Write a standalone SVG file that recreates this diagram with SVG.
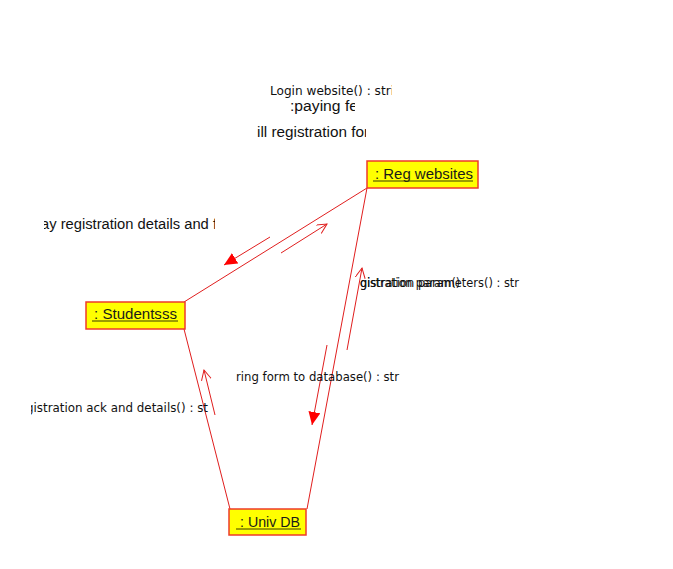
<svg xmlns="http://www.w3.org/2000/svg" width="673" height="569" viewBox="0 0 673 569">
<style>
.box{fill:#ffff00;stroke:#ee3b2a;stroke-width:1.5}
.nt{font-family:"Liberation Sans",Arial,sans-serif;font-size:14px;fill:#1a1a1a}
.ul{stroke:#3a3a00;stroke-width:1}
.conn{stroke:#e01e1e;stroke-width:1;fill:none}
.msg{stroke:#e01e1e;stroke-width:1;fill:none}
.la{font-family:"Liberation Sans",Arial,sans-serif;font-size:14px;fill:#111}
.ls{font-family:"DejaVu Sans",Verdana,sans-serif;font-size:12px;fill:#111}
</style>
<defs>
<marker id="open" markerWidth="12" markerHeight="12" refX="10" refY="5" orient="auto" markerUnits="userSpaceOnUse"><path d="M0,0 L10,5 L0,10" fill="none" stroke="#e01e1e" stroke-width="1"/></marker>
<marker id="filled" markerWidth="14" markerHeight="14" refX="13" refY="6" orient="auto" markerUnits="userSpaceOnUse"><path d="M0,0 L13,6 L0,12 z" fill="#ff0000"/></marker>
<clipPath id="c1" clipPathUnits="userSpaceOnUse"><rect x="260" y="80" width="132" height="20"/></clipPath>
<clipPath id="c2" clipPathUnits="userSpaceOnUse"><rect x="280" y="98" width="75" height="20"/></clipPath>
<clipPath id="c3" clipPathUnits="userSpaceOnUse"><rect x="257" y="122" width="109" height="20"/></clipPath>
<clipPath id="c4" clipPathUnits="userSpaceOnUse"><rect x="44" y="214" width="171" height="20"/></clipPath>
<clipPath id="c5" clipPathUnits="userSpaceOnUse"><rect x="359" y="272" width="170" height="20"/></clipPath>
<clipPath id="c6" clipPathUnits="userSpaceOnUse"><rect x="236" y="366" width="170" height="20"/></clipPath>
<clipPath id="c7" clipPathUnits="userSpaceOnUse"><rect x="31" y="397" width="180" height="20"/></clipPath>
</defs>
<rect width="673" height="569" fill="#ffffff"/>
<g id="connectors">
<line class="conn" x1="367" y1="188" x2="184" y2="302"/>
<line class="conn" x1="367" y1="188" x2="307" y2="509"/>
<line class="conn" x1="184" y1="329" x2="230" y2="509"/>
<line class="msg" x1="281" y1="253" x2="327" y2="224" marker-end="url(#open)"/>
<line class="msg" x1="270" y1="237" x2="224" y2="265" marker-end="url(#filled)"/>
<line class="msg" x1="347" y1="350" x2="362" y2="268" marker-end="url(#open)"/>
<line class="msg" x1="327" y1="345" x2="312" y2="425" marker-end="url(#filled)"/>
<line class="msg" x1="215" y1="415" x2="204" y2="370" marker-end="url(#open)"/>
</g>
<g id="labels">
<text class="ls" x="270" y="95" textLength="124" lengthAdjust="spacingAndGlyphs" clip-path="url(#c1)">Login website() : stri</text>
<text class="la" x="290" y="111" textLength="68" lengthAdjust="spacingAndGlyphs" clip-path="url(#c2)">:paying fe</text>
<text class="la" x="257" y="137" font-size="14.5" textLength="112" lengthAdjust="spacingAndGlyphs" clip-path="url(#c3)">ill registration for</text>
<text class="la" x="41" y="229" textLength="176" lengthAdjust="spacingAndGlyphs" clip-path="url(#c4)">ay registration details and f</text>
<text class="ls" x="360" y="287" textLength="159" lengthAdjust="spacingAndGlyphs" clip-path="url(#c5)">gistration parameters() : str</text>
<text class="ls" x="360" y="287" textLength="100" lengthAdjust="spacingAndGlyphs" clip-path="url(#c5)">gistration param()</text>
<text class="ls" x="236" y="381" textLength="163" lengthAdjust="spacingAndGlyphs" clip-path="url(#c6)">ring form to database() : str</text>
<text class="ls" x="26" y="412" textLength="182" lengthAdjust="spacingAndGlyphs" clip-path="url(#c7)">gistration ack and details() : st</text>
</g>
<g id="reg-websites">
<rect class="box" x="367" y="161" width="111" height="27"/>
<text class="nt" x="375" y="179" textLength="98" lengthAdjust="spacingAndGlyphs">: Reg websites</text>
<line class="ul" x1="373" y1="181" x2="473" y2="181"/>
</g>
<g id="studentsss">
<rect class="box" x="86" y="302" width="99" height="27"/>
<text class="nt" x="94" y="319" textLength="83" lengthAdjust="spacingAndGlyphs">: Studentsss</text>
<line class="ul" x1="92" y1="321" x2="178" y2="321"/>
</g>
<g id="univ-db">
<rect class="box" x="229" y="509" width="77" height="26"/>
<text class="nt" x="240" y="527" textLength="60" lengthAdjust="spacingAndGlyphs">: Univ DB</text>
<line class="ul" x1="236" y1="529" x2="301" y2="529"/>
</g>
</svg>
